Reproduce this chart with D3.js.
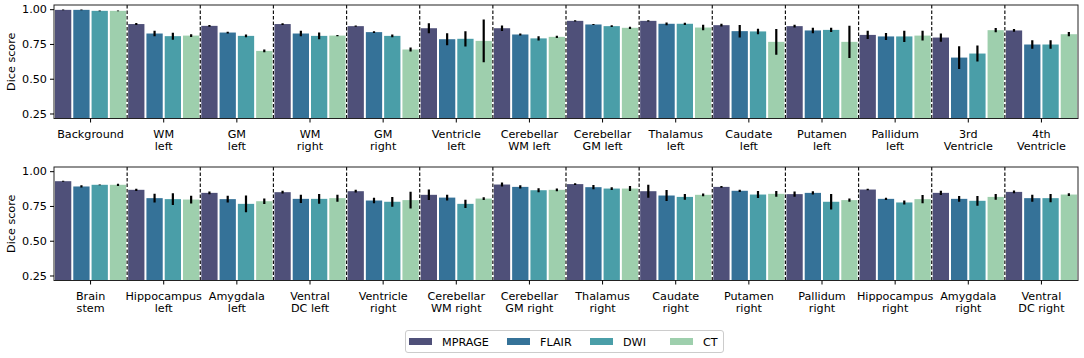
<!DOCTYPE html>
<html><head><meta charset="utf-8">
<script src="https://cdn.jsdelivr.net/npm/d3@7"></script>
<style>
body{margin:0;background:#fff;}
text{font-family:"DejaVu Sans",sans-serif;}
</style></head>
<body><svg id="c" width="1084" height="358"></svg>
<script>
const series = ["MPRAGE","FLAIR","DWI","CT"];
const colors = ["#4f5079","#357298","#4a9ea8","#9ecfad"];
const yTicks = [0.25,0.50,0.75,1.00];

const categoriesTop = ["Background","WM\nleft","GM\nleft","WM\nright","GM\nright","Ventricle\nleft","Cerebellar\nWM left","Cerebellar\nGM left","Thalamus\nleft","Caudate\nleft","Putamen\nleft","Pallidum\nleft","3rd\nVentricle","4th\nVentricle"];
const categoriesBottom = ["Brain\nstem","Hippocampus\nleft","Amygdala\nleft","Ventral\nDC left","Ventricle\nright","Cerebellar\nWM right","Cerebellar\nGM right","Thalamus\nright","Caudate\nright","Putamen\nright","Pallidum\nright","Hippocampus\nright","Amygdala\nright","Ventral\nDC right"];

const topMPRAGE = [0.995,0.893,0.880,0.893,0.878,0.863,0.863,0.916,0.916,0.885,0.878,0.815,0.796,0.847];
const topFLAIR  = [0.995,0.825,0.832,0.825,0.835,0.784,0.818,0.890,0.895,0.842,0.847,0.804,0.652,0.746];
const topDWI    = [0.988,0.806,0.808,0.808,0.808,0.787,0.790,0.878,0.895,0.840,0.851,0.804,0.681,0.746];
const topCT     = [0.988,0.810,0.700,0.810,0.710,0.772,0.801,0.866,0.868,0.765,0.765,0.810,0.849,0.820];
const topErrMPRAGE = [0.002,0.007,0.006,0.006,0.004,0.036,0.020,0.004,0.005,0.010,0.010,0.030,0.030,0.010];
const topErrFLAIR  = [0.002,0.020,0.006,0.020,0.006,0.043,0.008,0.004,0.010,0.045,0.020,0.025,0.082,0.030];
const topErrDWI    = [0.003,0.025,0.010,0.025,0.010,0.055,0.015,0.006,0.008,0.020,0.015,0.040,0.057,0.030];
const topErrCT     = [0.003,0.010,0.010,0.004,0.015,0.153,0.008,0.008,0.020,0.093,0.116,0.035,0.015,0.015];

const botMPRAGE = [0.928,0.866,0.844,0.849,0.856,0.830,0.904,0.907,0.856,0.887,0.835,0.868,0.844,0.851];
const botFLAIR  = [0.890,0.806,0.799,0.801,0.789,0.810,0.887,0.885,0.825,0.859,0.844,0.801,0.801,0.806];
const botDWI    = [0.902,0.799,0.765,0.801,0.780,0.765,0.863,0.875,0.815,0.832,0.780,0.775,0.787,0.806];
const botCT     = [0.902,0.796,0.784,0.806,0.792,0.803,0.866,0.875,0.830,0.837,0.792,0.799,0.815,0.832];
const botErrMPRAGE = [0.004,0.008,0.010,0.010,0.010,0.038,0.015,0.006,0.047,0.007,0.018,0.006,0.015,0.010];
const botErrFLAIR  = [0.008,0.032,0.025,0.030,0.020,0.020,0.012,0.015,0.040,0.008,0.012,0.008,0.020,0.025];
const botErrDWI    = [0.003,0.043,0.060,0.035,0.035,0.030,0.015,0.010,0.020,0.025,0.055,0.015,0.035,0.030];
const botErrCT     = [0.008,0.028,0.020,0.025,0.060,0.010,0.010,0.018,0.010,0.020,0.012,0.030,0.020,0.010];

const svg = d3.select("#c");
const L = 54, R = 1078;
const FS = 11.2;

function panel(top, height, cats, vals, errs){
  const g = svg.append("g");
  const x = d3.scaleBand().domain(cats).range([L,R]).padding(0);
  const xs = d3.scaleBand().domain(series).range([0,x.bandwidth()]).padding(0);
  const y = d3.scaleLinear().domain([0.214,1.030]).range([top+height, top]);
  const bottom = top+height;
  const clipId = "clip"+top;
  svg.append("clipPath").attr("id",clipId).append("rect").attr("x",L).attr("y",top).attr("width",R-L).attr("height",height);
  const plot = g.append("g").attr("clip-path",`url(#${clipId})`);
  series.forEach((s,si)=>{
    const data = cats.map((c,i)=>({c, v:vals[si][i], e:errs[si][i]}));
    plot.selectAll(null).data(data).enter().append("rect")
      .attr("x",d=>x(d.c)+xs(s)+1)
      .attr("width",xs.bandwidth()-2)
      .attr("y",d=>y(d.v))
      .attr("height",d=>bottom+2-y(d.v))
      .attr("fill",colors[si]);
    plot.selectAll(null).data(data).enter().append("line")
      .attr("x1",d=>x(d.c)+xs(s)+xs.bandwidth()/2)
      .attr("x2",d=>x(d.c)+xs(s)+xs.bandwidth()/2)
      .attr("y1",d=>y(d.v-d.e)).attr("y2",d=>y(d.v+d.e))
      .attr("stroke","#000").attr("stroke-width",2.2);
  });
  plot.selectAll(null).data(cats.slice(1)).enter().append("line")
    .attr("x1",c=>x(c)).attr("x2",c=>x(c))
    .attr("y1",top).attr("y2",bottom)
    .attr("stroke","#111").attr("stroke-width",1.2).attr("stroke-dasharray","3.5,2");
  g.append("rect").attr("x",L).attr("y",top).attr("width",R-L).attr("height",height)
    .attr("fill","none").attr("stroke","#222").attr("stroke-width",1);
  const ya = g.append("g").attr("transform",`translate(${L},0)`)
    .call(d3.axisLeft(y).tickValues(yTicks).tickFormat(d3.format(".2f")).tickSize(4).tickPadding(3));
  ya.select(".domain").remove();
  ya.selectAll("text").attr("font-size",FS).attr("fill","#000").style("font-family","DejaVu Sans");
  ya.selectAll("line").attr("stroke","#000");
  const xa = g.append("g").attr("transform",`translate(0,${bottom})`)
    .call(d3.axisBottom(x).tickSize(4).tickFormat(""));
  xa.select(".domain").remove();
  xa.selectAll("line").attr("stroke","#000");
  const lab = g.selectAll(null).data(cats).enter().append("text")
    .attr("x",c=>x(c)+x.bandwidth()/2)
    .attr("y",bottom+19)
    .attr("text-anchor","middle").attr("font-size",FS).attr("fill","#000");
  lab.each(function(c){
    c.split("\n").forEach((p,i)=>{
      d3.select(this).append("tspan").attr("x",x(c)+x.bandwidth()/2).attr("dy",i===0?0:12.7).text(p);
    });
  });
  g.append("text").attr("transform",`translate(15,${top+height/2}) rotate(-90)`)
    .attr("text-anchor","middle").attr("font-size",FS).attr("fill","#000").text("Dice score");
}

panel(5, 113.5, categoriesTop, [topMPRAGE,topFLAIR,topDWI,topCT], [topErrMPRAGE,topErrFLAIR,topErrDWI,topErrCT]);
panel(167, 113.5, categoriesBottom, [botMPRAGE,botFLAIR,botDWI,botCT], [botErrMPRAGE,botErrFLAIR,botErrDWI,botErrCT]);

const lg = svg.append("g");
lg.append("rect").attr("x",405.5).attr("y",330.5).attr("width",318).attr("height",22).attr("rx",2.5)
  .attr("fill","#fff").attr("stroke","#ccc").attr("stroke-width",1);
const lx = [409,507,590,670];
series.forEach((s,i)=>{
  lg.append("rect").attr("x",lx[i]).attr("y",338).attr("width",23).attr("height",7).attr("fill",colors[i]);
  lg.append("text").attr("x",lx[i]+33).attr("y",345.5).attr("font-size",FS).attr("fill","#000").text(s);
});
</script></body></html>
